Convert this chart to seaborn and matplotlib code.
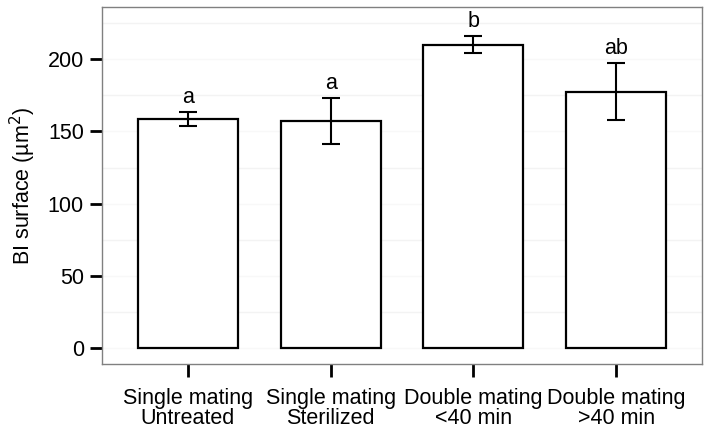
import seaborn as sns
import matplotlib.pyplot as plt
import pandas as pd

# values
groups = ["Single mating\nUntreated", "Single mating\nSterilized",
          "Double mating\n<40 min", "Double mating\n>40 min"]
means = [158.5, 157.0, 210.0, 177.5]
errors = [5.0, 16.0, 6.0, 19.5]
letters = ["a", "a", "b", "ab"]

df = pd.DataFrame({"group": groups, "surface": means, "err": errors})

sns.set_theme(style="white")
plt.rcParams['font.family'] = ['Liberation Sans', 'DejaVu Sans']
plt.rcParams['text.color'] = 'black'

fig = plt.figure(figsize=(7.1, 4.33), dpi=100)
ax = fig.add_axes([0.1437, 0.1594, 0.8450, 0.8244])

# faint grid lines like the original ggplot theme
for y in [25, 75, 125, 175, 225]:
    ax.axhline(y, color="#f3f3f3", lw=1.0, zorder=0)
for y in [0, 50, 100, 150, 200]:
    ax.axhline(y, color="#f8f8f8", lw=1.0, zorder=0)

sns.barplot(data=df, x="group", y="surface", color="white",
            edgecolor="black", linewidth=1.6, width=0.7, ax=ax, zorder=2)
ax.errorbar(range(len(means)), df["surface"], yerr=df["err"], fmt="none",
            ecolor="black", elinewidth=1.5, capsize=6.5, capthick=1.5, zorder=3)

for i, (m, e, lab) in enumerate(zip(means, errors, letters)):
    ax.text(i, m + e + 3, lab, ha="center", va="bottom", fontsize=15.5,
            color="black")

ax.set_xlim(-0.6, 3.6)
ax.set_ylim(-10.8, 236)
ax.set_yticks([0, 50, 100, 150, 200])
ax.set_xlabel("")
ax.set_ylabel("BI surface (µm$^2$)", fontsize=15.5, labelpad=7, color="black")

ax.tick_params(axis="both", which="major", direction="out", length=9, width=2,
               color="black", labelsize=15.5, labelcolor="black",
               bottom=True, left=True)
ax.tick_params(axis="x", pad=8.5)
ax.tick_params(axis="y", pad=4)
for lab in ax.get_xticklabels():
    lab.set_linespacing(0.95)
for s in ax.spines.values():
    s.set_color("#808080")
    s.set_linewidth(1.0)

fig.savefig("out.png", dpi=100)
